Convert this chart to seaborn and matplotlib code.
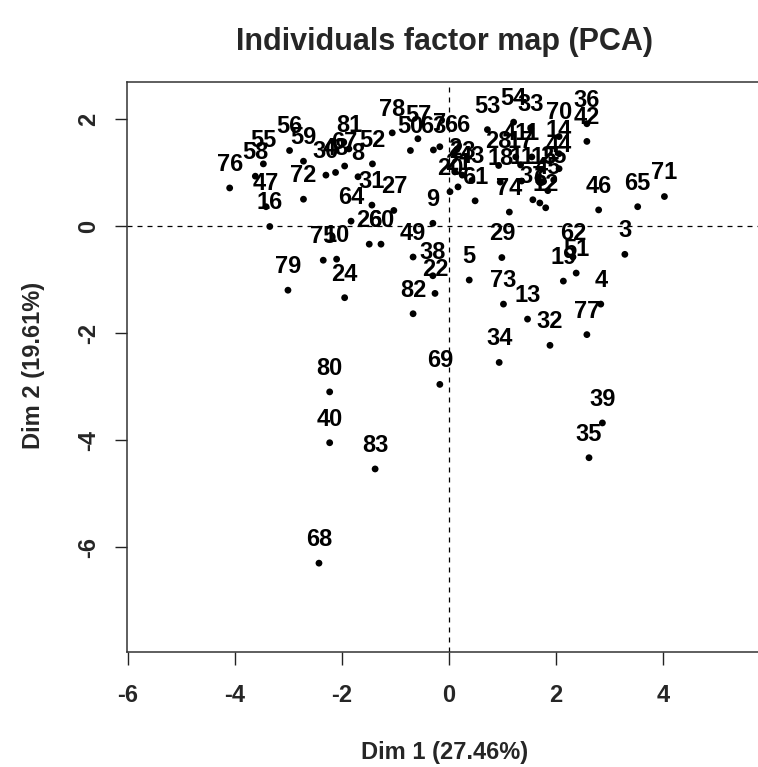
import pandas as pd
import seaborn as sns
import matplotlib.pyplot as plt

# individuals and their coordinates on the first two PCA dimensions
labels = [str(i) for i in range(1, 84)]
dim1 = [1.55, 0.11, 3.29, 2.84, 0.38, 1.70, -0.17, -1.70, -0.30, -2.10,
        1.36, 1.81, 1.47, 2.06, 1.77, -3.35, 1.34, 0.96, 2.14, 0.02,
        0.17, -0.26, 0.25, -1.95, 1.96, -1.49, -1.03, 0.93, 0.99, -2.30,
        -1.44, 1.89, 1.53, 0.94, 2.62, 2.58, 1.57, -0.30, 2.87, -2.23,
        1.25, 2.58, 0.43, 2.06, 1.85, 2.80, -3.42, -2.12, -0.67, -0.72,
        2.38, -1.43, 0.72, 1.21, -3.47, -2.98, -0.58, -3.62, -2.72, -1.27,
        0.49, 2.32, -0.29, -1.83, 3.53, 0.15, -1.95, -2.43, -0.17, 2.06,
        4.03, -2.72, 1.02, 1.13, -2.35, -4.10, 2.58, -1.06, -3.01, -2.23,
        -1.87, -0.67, -1.38]
dim2 = [1.29, 1.01, -0.53, -1.46, -1.01, 0.43, 1.48, 0.92, 0.05, -0.62,
        0.84, 0.34, -1.74, 1.35, 0.83, -0.01, 1.14, 0.82, -1.03, 0.64,
        0.73, -1.26, 0.95, -1.34, 0.86, -0.34, 0.29, 1.13, -0.59, 0.95,
        0.39, -2.23, 1.82, -2.55, -4.33, 1.91, 0.49, -0.93, -3.68, -4.05,
        1.29, 1.58, 0.85, 1.07, 0.66, 0.30, 0.36, 1.00, -0.58, 1.41,
        -0.88, 1.16, 1.80, 1.94, 1.16, 1.41, 1.63, 0.93, 1.21, -0.34,
        0.47, -0.58, 1.42, 0.09, 0.36, 1.43, 1.12, -6.30, -2.96, 1.67,
        0.55, 0.50, -1.46, 0.26, -0.64, 0.71, -2.03, 1.74, -1.20, -3.10,
        1.44, -1.64, -4.54]
xticks = [-6, -4, -2, 0, 2, 4]
yticks = [-6, -4, -2, 0, 2]

df = pd.DataFrame({'label': labels, 'Dim1': dim1, 'Dim2': dim2})

sns.set_style('white')
plt.rcParams['font.family'] = ['Liberation Sans', 'DejaVu Sans']

W, H = 758, 767
fig = plt.figure(figsize=(W / 100, H / 100), dpi=100)
left, right, top, bottom = 127, 758, 82, 652
ax = fig.add_axes([left / W, 1 - bottom / H, (right - left) / W, (bottom - top) / H])

sns.scatterplot(data=df, x='Dim1', y='Dim2', ax=ax, color='black', s=24,
                edgecolor='none', legend=False, zorder=3)

for _, row in df.iterrows():
    ax.annotate(row['label'], (row['Dim1'], row['Dim2']), xytext=(0, 17),
                textcoords='offset points', ha='center', va='center',
                fontsize=17, fontweight='bold', color='black', zorder=4)

ax.axhline(0, color='black', lw=0.9, ls=(0, (4, 4)), zorder=1)
ax.axvline(0, color='black', lw=0.9, ls=(0, (4, 4)), zorder=1)

ax.set_xlim(-6.02, 5.78)
ax.set_ylim(-7.96, 2.69)
ax.set_xticks(xticks)
ax.set_yticks(yticks)
ax.set_xticklabels([str(t) for t in xticks], fontsize=17, fontweight='bold')
ax.set_yticklabels([str(t) for t in yticks], fontsize=17, fontweight='bold',
                   rotation=90, va='center')
ax.tick_params(axis='both', direction='out', length=9, width=1, color='#222222',
               bottom=True, left=True)
ax.tick_params(axis='x', pad=14)
ax.tick_params(axis='y', pad=10)

for side in ['top', 'left', 'bottom']:
    ax.spines[side].set_color('#333333')
    ax.spines[side].set_linewidth(1.1)
ax.spines['right'].set_visible(False)

ax.set_xlabel('Dim 1 (27.46%)', fontsize=17, fontweight='bold')
ax.set_ylabel('Dim 2 (19.61%)', fontsize=17, fontweight='bold')
ax.xaxis.label.set_va('center')
ax.yaxis.label.set_va('center')
ax.xaxis.set_label_coords((445 - left) / (right - left), (bottom - 752) / (bottom - top))
ax.yaxis.set_label_coords((34 - left) / (right - left), (bottom - 365) / (bottom - top))

fig.text(445 / W, 1 - 42 / H, 'Individuals factor map (PCA)', ha='center', va='center',
         fontsize=22, fontweight='bold', family=['Liberation Sans Narrow', 'Liberation Sans'])

fig.savefig('out.png', dpi=100)
